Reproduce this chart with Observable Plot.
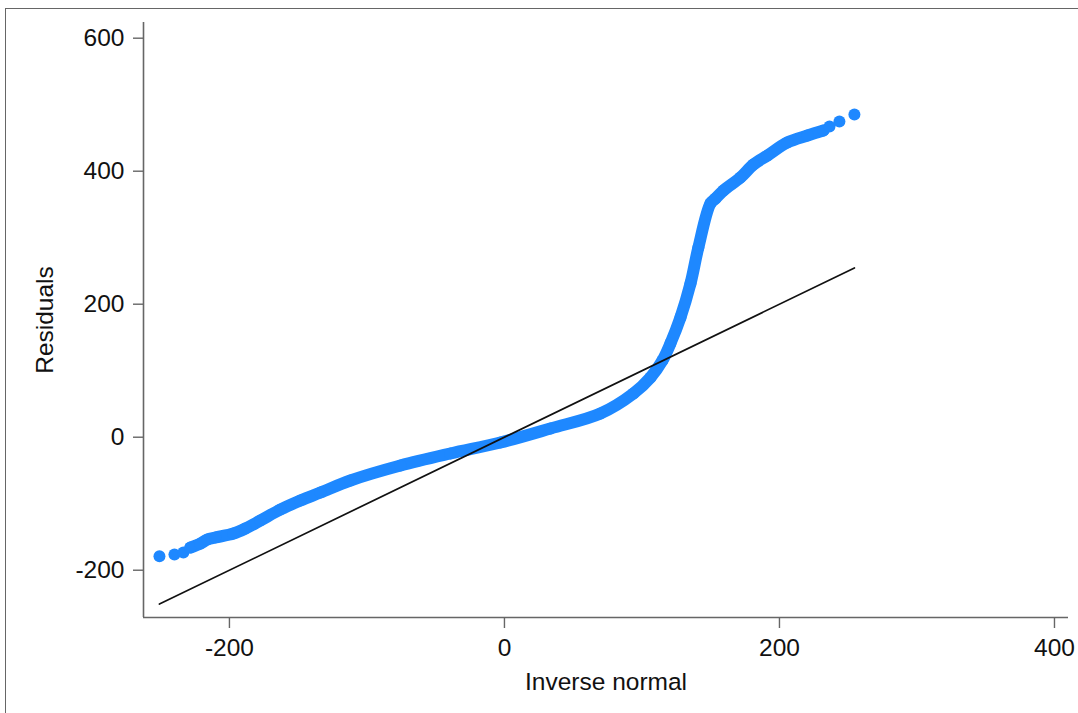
<!DOCTYPE html>
<html>
<head>
<meta charset="utf-8">
<script src="https://cdn.jsdelivr.net/npm/d3@7"></script>
<script src="https://cdn.jsdelivr.net/npm/@observablehq/plot@0.6"></script>
<style>
  html, body { margin: 0; padding: 0; background: #fff; overflow: hidden; }
  #wrap { position: relative; width: 1078px; height: 713px; }
  #border { position: absolute; left: 5px; top: 8px; width: 1200px; height: 800px; z-index: 2;
            border-left: 1.5px solid #666; border-top: 1.5px solid #666; pointer-events: none; }
  #chart { position: absolute; left: 0; top: 0; z-index: 1; }
</style>
</head>
<body>
<div id="wrap"><div id="chart"></div><div id="border"></div></div>
<script>
// Inverse normal (x) and residuals (y), in order
const invNormal = [-250.9, -240.0, -233.5, -228.4, -221.1, -216.0, -210.2, -197.1, -188.4, -177.5,
  -162.9, -148.4, -133.8, -112.0, -75.6, -39.3, -2.9, 33.5, 69.8, 93.8,
  106.2, 114.9, 120.7, 128.0, 135.3, 141.0, 149.8, 153.5, 159.3,
  171.6, 181.1, 191.3, 205.8, 220.4, 232.0, 236.4, 243.6, 254.5];
const residuals = [-178.9, -176.4, -173.4, -165.9, -159.9, -153.8, -150.8, -144.8, -137.3, -125.3,
  -108.7, -95.2, -83.2, -65.1, -42.6, -24.5, -8.0, 13.1, 35.6, 65.7,
  89.8, 115.3, 140.9, 180.0, 231.1, 285.0, 351.4, 358.9, 371.0,
  390.5, 410.0, 423.6, 443.2, 453.7, 461.2, 467.2, 474.7, 485.3];
// Reference line y = x over the range of inverse normal
const refLine = [-250.9, 254.5];
const xTicks = [-200, 0, 200, 400];
const yTicks = [-200, 0, 200, 400, 600];

const pts = invNormal.map((x, i) => ({x, y: residuals[i]}));
const dense = pts.slice(3, pts.length - 3);
const ref = refLine.map(v => ({x: v, y: v}));

const xDomain = [-262.5, 410.2];
const yDomain = [-271.1, 623.6];
const blue = "#1e88ff";
const axisCol = "#666";
const fmt = d => String(d);

const chart = Plot.plot({
  width: 1078,
  height: 713,
  marginLeft: 143,
  marginRight: 10,
  marginTop: 22,
  marginBottom: 96,
  style: {fontFamily: "'Liberation Sans', Arial, sans-serif", fontSize: "24.5px", color: "#111", background: "transparent"},
  x: {domain: xDomain},
  y: {domain: yDomain},
  marks: [
    Plot.line(dense, {x: "x", y: "y", stroke: blue, strokeWidth: 12, strokeLinecap: "round", strokeLinejoin: "round", curve: "catmull-rom"}),
    Plot.dot(pts, {x: "x", y: "y", r: 6, fill: blue, stroke: "none"}),
    Plot.line(ref, {x: "x", y: "y", stroke: "#111", strokeWidth: 1.7}),
    Plot.ruleX([xDomain[0]], {stroke: axisCol, strokeWidth: 1.6}),
    Plot.ruleY([yDomain[0]], {stroke: axisCol, strokeWidth: 1.6}),
    Plot.axisX({ticks: xTicks, tickFormat: fmt, tickSize: 11, tickPadding: 10, stroke: axisCol, strokeWidth: 1.4,
      label: "Inverse normal", labelAnchor: "center", labelArrow: "none", labelOffset: 72, fontSize: 24.5}),
    Plot.axisY({ticks: yTicks, tickFormat: fmt, tickSize: 10, tickPadding: 9, stroke: axisCol, strokeWidth: 1.4,
      label: "Residuals", labelAnchor: "center", labelArrow: "none", labelOffset: 108, fontSize: 24.5})
  ]
});
document.getElementById("chart").appendChild(chart);
</script>
</body>
</html>
